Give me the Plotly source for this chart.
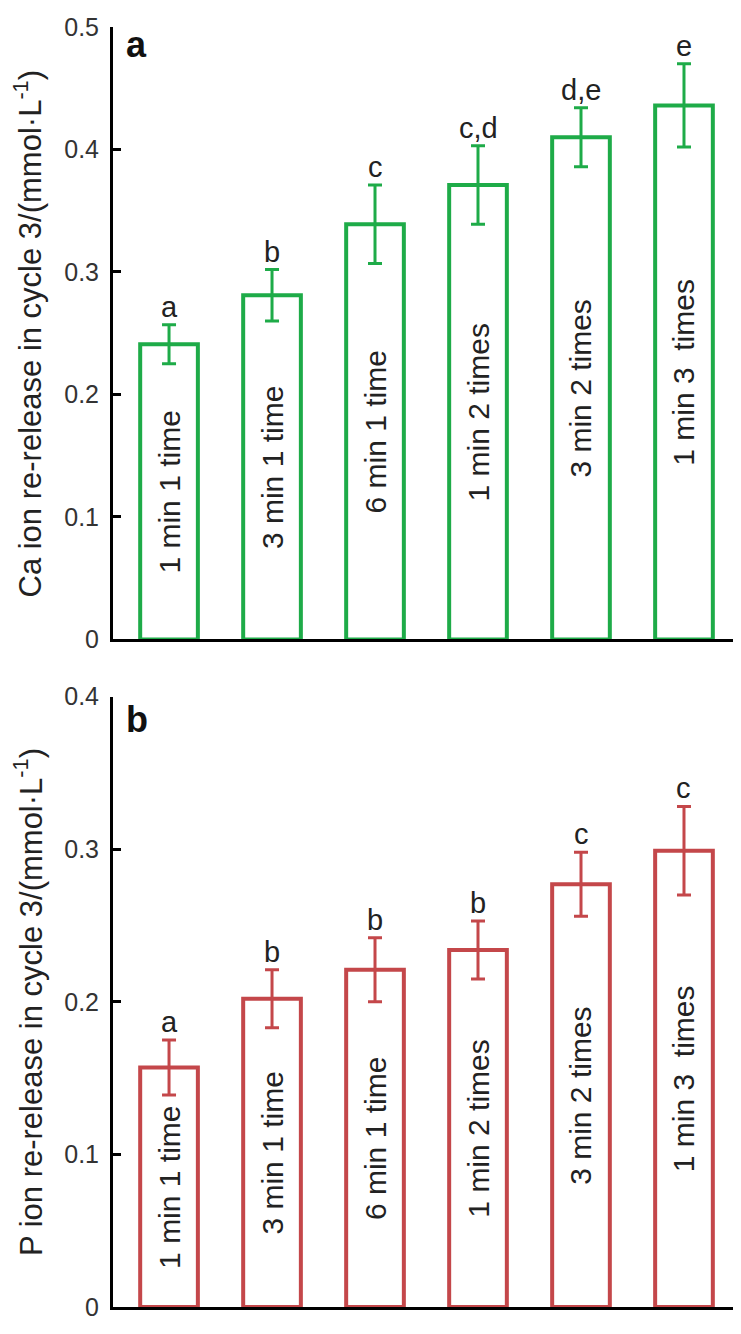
import plotly.graph_objects as go

categories = ["1 min 1 time", "3 min 1 time", "6 min 1 time", "1 min 2 times", "3 min 2 times", "1 min 3  times"]
ca_values = [0.241, 0.281, 0.339, 0.371, 0.410, 0.436]
ca_errors = [0.016, 0.021, 0.032, 0.032, 0.024, 0.034]
ca_letters = ["a", "b", "c", "c,d", "d,e", "e"]
p_values = [0.157, 0.202, 0.221, 0.234, 0.277, 0.299]
p_errors = [0.018, 0.019, 0.021, 0.019, 0.021, 0.029]
p_letters = ["a", "b", "b", "b", "c", "c"]
ca_ticks = [0, 0.1, 0.2, 0.3, 0.4, 0.5]
p_ticks = [0, 0.1, 0.2, 0.3, 0.4]

GREEN = "#1eab48"
RED = "#c4474a"
FONT = "Liberation Sans, Arial, sans-serif"
xpos = list(range(len(categories)))

fig = go.Figure()


def add_panel(vals, errs, color, xa, ya):
    fig.add_trace(go.Bar(
        x=xpos, y=vals, width=0.56, xaxis=xa, yaxis=ya,
        marker=dict(color="rgba(255,255,255,0)", line=dict(color=color, width=4)),
        error_y=dict(type="data", array=errs, visible=True, color=color, thickness=3, width=7),
        text=categories, textposition="inside", insidetextanchor="middle",
        textangle=-90, constraintext="none",
        textfont=dict(family=FONT, size=30, color="#222"),
        insidetextfont=dict(family=FONT, size=30, color="#222"),
        showlegend=False, hoverinfo="skip",
    ))


add_panel(ca_values, ca_errors, GREEN, "x", "y")
add_panel(p_values, p_errors, RED, "x2", "y2")

annotations = []
for i, (v, e, t) in enumerate(zip(ca_values, ca_errors, ca_letters)):
    annotations.append(dict(x=i, y=v + e, xref="x", yref="y", text=t, showarrow=False,
                            yanchor="bottom", yshift=0, font=dict(family=FONT, size=29, color="#222")))
for i, (v, e, t) in enumerate(zip(p_values, p_errors, p_letters)):
    annotations.append(dict(x=i, y=v + e, xref="x2", yref="y2", text=t, showarrow=False,
                            yanchor="bottom", yshift=0, font=dict(family=FONT, size=29, color="#222")))

annotations.append(dict(x=0.018, y=1, xref="paper", yref="y domain", text="<b>a</b>", showarrow=False,
                        xanchor="left", yanchor="top", yshift=5, font=dict(family=FONT, size=36, color="#111")))
annotations.append(dict(x=0.018, y=1, xref="paper", yref="y2 domain", text="<b>b</b>", showarrow=False,
                        xanchor="left", yanchor="top", yshift=0, font=dict(family=FONT, size=36, color="#111")))
annotations.append(dict(x=-0.136, y=0.5, xref="paper", yref="y domain", textangle=-90,
                        text="Ca ion re-release in cycle 3/(mmol·L<sup>-1</sup>)", showarrow=False,
                        xanchor="center", yanchor="middle", font=dict(family=FONT, size=31, color="#222")))
annotations.append(dict(x=-0.136, y=0.5, xref="paper", yref="y2 domain", textangle=-90,
                        text="P ion re-release in cycle 3/(mmol·L<sup>-1</sup>)", showarrow=False,
                        xanchor="center", yanchor="middle", font=dict(family=FONT, size=31, color="#222")))

xaxis_common = dict(range=[-0.544, 5.505], showline=True, linewidth=3, linecolor="black",
                    showticklabels=False, ticks="", showgrid=False, zeroline=False, fixedrange=True)
yaxis_common = dict(showline=True, linewidth=3, linecolor="black", ticks="inside", ticklen=8,
                    tickwidth=3, tickcolor="black", showgrid=False, zeroline=False,
                    tickfont=dict(family=FONT, size=25, color="#333"), ticklabelstandoff=6)

# page body has an 8px margin, so the figure is sized to fit inside the window
fig.update_layout(
    width=733, height=1318,
    margin=dict(l=105, r=5, t=7, b=11),
    paper_bgcolor="white", plot_bgcolor="white",
    xaxis=dict(domain=[0, 1], anchor="y", **xaxis_common),
    yaxis=dict(domain=[0.5215, 1], anchor="x", range=[0, 0.5], tickvals=ca_ticks,
               ticktext=[f"{t:g}" for t in ca_ticks], **yaxis_common),
    xaxis2=dict(domain=[0, 1], anchor="y2", **xaxis_common),
    yaxis2=dict(domain=[0, 0.4769], anchor="x2", range=[0, 0.4], tickvals=p_ticks,
                ticktext=[f"{t:g}" for t in p_ticks], **yaxis_common),
    annotations=annotations,
    bargap=0.44,
)

fig.write_html("out.html")
